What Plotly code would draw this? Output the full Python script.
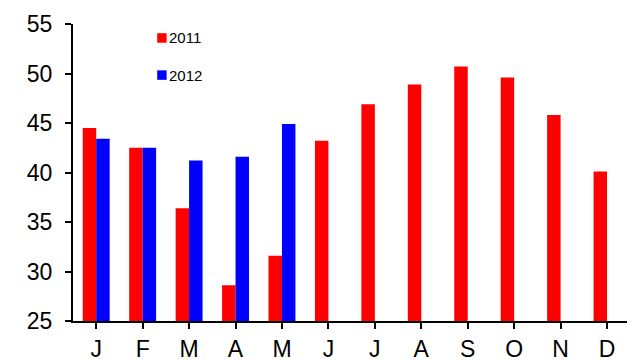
import plotly.graph_objects as go

# Monthly values for two years (2012 only runs January to May)
months = ["J", "F", "M", "A", "M", "J", "J", "A", "S", "O", "N", "D"]
series_names = ["2011", "2012"]
values_2011 = [44.5, 42.5, 36.4, 28.6, 31.6, 43.2, 46.9, 48.9, 50.7, 49.6, 45.8, 40.1]
values_2012 = [43.4, 42.5, 41.2, 41.6, 44.9, None, None, None, None, None, None, None]
series_colors = ["#FF0000", "#0000FF"]

x_idx = list(range(len(months)))

fig = go.Figure()
for name, vals, color in zip(series_names, [values_2011, values_2012], series_colors):
    fig.add_trace(go.Bar(
        x=x_idx, y=vals, name=name,
        marker=dict(color=color, line=dict(width=0)),
        showlegend=False,
    ))

axis_font = dict(family="Liberation Sans, Arial, sans-serif", size=23, color="black")

fig.update_layout(
    width=627, height=361,
    margin=dict(l=73, r=0, t=24, b=40),
    paper_bgcolor="white", plot_bgcolor="white",
    barmode="group", bargap=0.42, bargroupgap=0,
    xaxis=dict(
        range=[-0.5, 11.43],
        tickmode="array", tickvals=x_idx, ticktext=months,
        tickson="boundaries",
        ticks="outside", ticklen=6, tickwidth=2, tickcolor="black",
        showline=True, linecolor="black", linewidth=2,
        showgrid=False, zeroline=False,
        tickfont=axis_font,
    ),
    yaxis=dict(
        range=[25, 55], tickmode="array", tickvals=[25, 30, 35, 40, 45, 50, 55],
        ticks="outside", ticklen=6, tickwidth=2, tickcolor="black",
        ticklabelstandoff=8,
        showline=True, linecolor="black", linewidth=2,
        showgrid=False, zeroline=False,
        tickfont=axis_font,
    ),
)

# Compact legend: coloured square followed directly by the series name
legend_rows = [(0.953, series_colors[0], series_names[0]), (0.828, series_colors[1], series_names[1])]
for y_pos, color, name in legend_rows:
    fig.add_shape(
        type="rect", xref="paper", yref="paper",
        x0=0.152, x1=0.169, y0=y_pos - 0.016, y1=y_pos + 0.016,
        fillcolor=color, line=dict(width=0),
    )
    fig.add_annotation(
        xref="paper", yref="paper", x=0.169, y=y_pos,
        text=name, showarrow=False, xanchor="left", yanchor="middle",
        font=dict(family="Liberation Sans, Arial, sans-serif", size=15, color="black"),
    )

fig.write_html("out.html")
